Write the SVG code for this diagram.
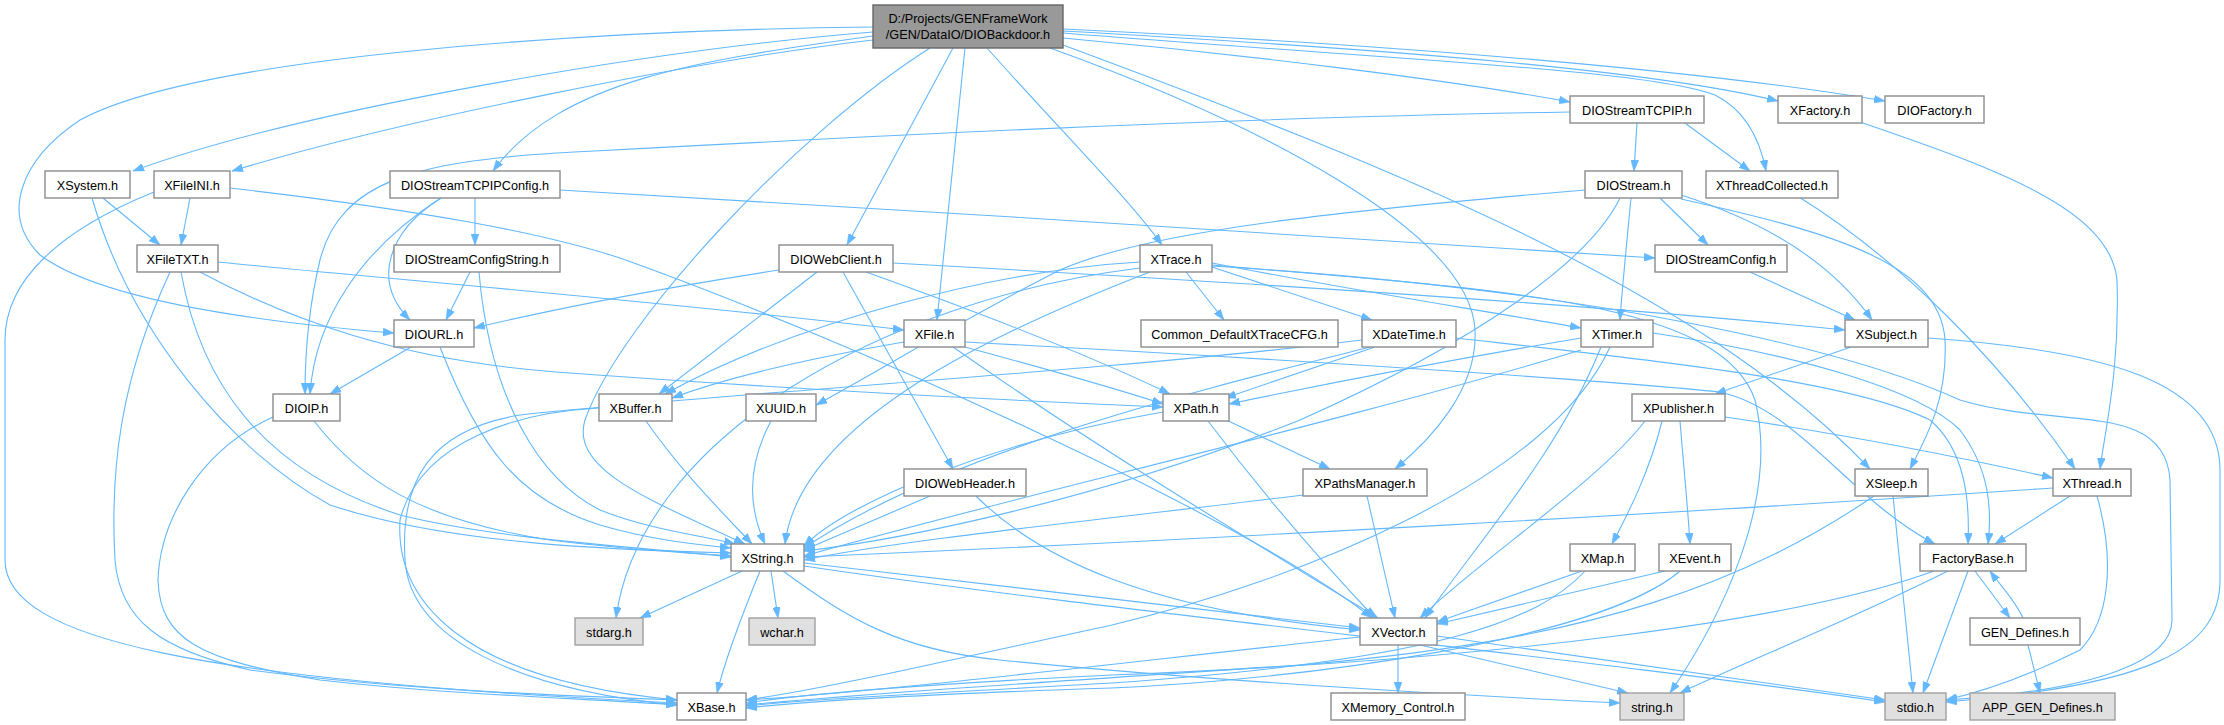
<svg xmlns="http://www.w3.org/2000/svg" width="2224" height="725" viewBox="0 0 2224 725">
<defs>
<marker id="ah" viewBox="0 0 11 8" refX="11" refY="4" markerWidth="11" markerHeight="8" markerUnits="userSpaceOnUse" orient="auto">
<path d="M0,0 L11,4 L0,8 Z" fill="#63b8ff" stroke="#63b8ff" stroke-width="0.5"/>
</marker>
</defs>
<style>
.n rect{fill:#ffffff;stroke:#8c8c8c;stroke-width:1.4}
.s rect{fill:#e0e0e0;stroke:#a0a0a0;stroke-width:1.4}
.r rect{fill:#999999;stroke:#666666;stroke-width:1.4}
text{font-family:"Liberation Sans",Arial,sans-serif;font-size:12.7px;fill:#000000;text-anchor:middle}
#edges path{fill:none;stroke:#63b8ff;stroke-width:1.1;marker-end:url(#ah)}
</style>
<rect width="2224" height="725" fill="#ffffff"/>
<g id="edges">
<path d="M873,32 C650,50 300,110 133,171"/>
<path d="M873,40 C700,60 400,120 232,171"/>
<path d="M873,27 C600,30 200,55 80,120 C20,160 0,215 40,255 C100,300 260,322 394,333"/>
<path d="M873,36 C700,60 560,80 493,171"/>
<path d="M930,48 C800,130 620,320 585,420 C570,470 650,500 745,544"/>
<path d="M953,48 L847,245"/>
<path d="M965,48 C955,150 945,250 937,320"/>
<path d="M987,48 C1060,130 1130,200 1162,245"/>
<path d="M1050,48 C1250,120 1470,230 1475,330 C1478,390 1430,440 1395,469"/>
<path d="M1063,45 C1400,170 1700,290 1870,469"/>
<path d="M1063,38 C1250,55 1450,80 1570,102"/>
<path d="M1063,33 C1400,60 1650,70 1715,95 C1745,110 1760,140 1766,171"/>
<path d="M1063,31 C1400,50 1650,70 1778,101"/>
<path d="M1063,29 C1400,45 1700,70 1885,101"/>
<path d="M103,198 L160,245"/>
<path d="M92,198 C130,330 230,450 330,505 C450,545 620,550 731,553"/>
<path d="M190,198 L181,245"/>
<path d="M154,192 C60,230 5,280 5,340 L5,560 C5,640 200,680 677,703"/>
<path d="M230,188 C420,210 540,232 620,258 C850,340 1250,520 1372,618"/>
<path d="M218,262 C400,280 700,305 904,330"/>
<path d="M200,272 C290,320 400,360 556,372 C800,390 1000,400 1163,407"/>
<path d="M181,272 C200,380 260,470 400,515 C500,540 650,548 731,557"/>
<path d="M170,272 C120,380 110,470 115,560 C120,620 160,650 250,670 C400,690 550,695 677,700"/>
<path d="M475,198 L475,245"/>
<path d="M441,198 C390,230 370,280 410,320"/>
<path d="M441,198 C360,250 315,320 310,394"/>
<path d="M560,190 C900,210 1400,240 1655,258"/>
<path d="M470,272 L446,320"/>
<path d="M479,272 C490,400 540,480 600,510 C650,530 700,535 735,544"/>
<path d="M411,347 L330,394"/>
<path d="M440,347 C480,450 520,500 600,525 C650,540 700,545 731,548"/>
<path d="M314,421 C360,480 420,520 550,540 C630,550 690,553 731,556"/>
<path d="M273,417 C200,450 160,520 158,580 C160,640 200,660 320,680 C450,695 580,698 677,705"/>
<path d="M779,270 C650,290 550,310 474,328"/>
<path d="M817,272 L659,394"/>
<path d="M843,272 L953,469"/>
<path d="M866,272 C1000,320 1100,360 1170,394"/>
<path d="M893,263 C1200,280 1600,305 1845,330"/>
<path d="M904,342 C800,360 720,380 672,398"/>
<path d="M965,347 C1050,370 1120,390 1163,404"/>
<path d="M953,347 C1100,450 1250,540 1378,618"/>
<path d="M965,342 C1300,360 1600,380 1720,392 C1800,410 1850,500 1935,544"/>
<path d="M1186,272 L1224,320"/>
<path d="M1212,267 L1372,320"/>
<path d="M1212,263 C1350,290 1480,310 1581,328"/>
<path d="M1140,262 C1000,270 800,320 665,394"/>
<path d="M1150,272 C1000,330 800,420 785,544"/>
<path d="M1140,268 C880,300 640,440 616,618"/>
<path d="M1212,265 C1500,290 1720,300 1755,400 C1780,500 1720,620 1670,693"/>
<path d="M1212,266 C1600,290 1850,350 1960,400 C2060,430 2165,400 2170,480 L2172,620 C2172,660 2100,690 1946,700"/>
<path d="M1928,338 C2100,350 2220,380 2220,470 L2220,580 C2220,650 2150,685 1946,702"/>
<path d="M1637,123 L1634,171"/>
<path d="M1685,123 L1750,171"/>
<path d="M1570,112 C1200,118 800,140 556,153 C420,162 340,180 320,260 C308,310 305,360 305,394"/>
<path d="M1660,198 L1708,245"/>
<path d="M1681,195 C1760,220 1830,260 1872,320"/>
<path d="M1681,199 C1820,230 1940,260 1945,340 C1948,400 1925,440 1910,469"/>
<path d="M1631,198 C1626,250 1622,290 1620,320"/>
<path d="M1620,198 C1590,260 1480,340 1300,420 C1100,500 900,540 804,551"/>
<path d="M1585,190 C1350,210 1150,230 1060,270 C980,310 880,370 816,405"/>
<path d="M1799,197 C1900,260 2000,360 2075,469"/>
<path d="M1860,122 C2000,170 2110,210 2117,280 C2120,370 2105,430 2100,469"/>
<path d="M1750,272 L1855,320"/>
<path d="M1851,347 L1715,394"/>
<path d="M1375,347 L1225,398"/>
<path d="M1581,338 C1450,360 1320,385 1229,404"/>
<path d="M1370,347 C1200,390 950,450 804,548"/>
<path d="M1362,340 C1100,372 700,395 520,415 C430,430 400,480 405,560 C410,640 520,690 677,705"/>
<path d="M1456,338 C1650,360 1850,380 1930,420 C1965,450 1970,500 1968,544"/>
<path d="M1581,350 C1350,420 1000,500 804,556"/>
<path d="M1601,347 C1560,450 1480,540 1425,618"/>
<path d="M1610,347 C1550,480 1300,580 1112,625 C950,660 820,690 746,700"/>
<path d="M1653,333 C1800,355 1920,390 1960,430 C1990,470 1992,510 1988,544"/>
<path d="M1222,418 L1330,469"/>
<path d="M1163,412 C1000,440 850,500 804,546"/>
<path d="M1208,421 C1260,490 1320,560 1375,618"/>
<path d="M1303,495 C1100,520 900,540 804,560"/>
<path d="M1367,496 L1395,618"/>
<path d="M599,408 C520,412 420,440 400,520 C395,600 460,680 677,700"/>
<path d="M646,421 C680,470 720,510 752,544"/>
<path d="M771,421 C750,460 745,500 765,544"/>
<path d="M930,496 L804,550"/>
<path d="M976,496 C1040,560 1150,610 1360,630"/>
<path d="M742,571 L640,618"/>
<path d="M771,571 L778,618"/>
<path d="M760,571 C740,620 725,660 717,693"/>
<path d="M804,563 C1000,585 1200,610 1360,628"/>
<path d="M783,571 C850,620 900,650 1000,660 C1200,680 1450,695 1620,703"/>
<path d="M804,566 C1100,610 1600,660 1885,702"/>
<path d="M1398,645 L1398,693"/>
<path d="M1420,645 L1628,693"/>
<path d="M1437,636 C1600,660 1750,680 1885,700"/>
<path d="M1360,637 C1100,665 900,690 746,700"/>
<path d="M1975,571 L2010,618"/>
<path d="M2023,618 C2015,600 2000,585 1990,571"/>
<path d="M2028,645 L2040,693"/>
<path d="M1968,571 L1923,693"/>
<path d="M1948,571 C1850,620 1750,660 1680,693"/>
<path d="M1934,571 C1800,620 1500,660 1112,675 C900,685 800,695 746,703"/>
<path d="M1893,496 L1913,693"/>
<path d="M1874,496 C1750,580 1600,640 1300,665 C1000,685 850,695 746,705"/>
<path d="M2070,496 L1995,544"/>
<path d="M2097,496 C2115,560 2110,620 2080,650 C2030,675 1990,690 1946,700"/>
<path d="M2053,488 C1700,512 1200,540 804,557"/>
<path d="M1662,421 C1650,470 1630,510 1612,544"/>
<path d="M1680,421 C1684,470 1688,510 1690,544"/>
<path d="M1725,417 C1850,435 1950,455 2053,478"/>
<path d="M1645,421 C1600,480 1480,560 1420,618"/>
<path d="M1582,571 L1437,622"/>
<path d="M1585,571 C1540,620 1440,660 1112,683 C900,695 800,700 746,706"/>
<path d="M1665,571 L1437,624"/>
<path d="M1680,571 C1600,640 1300,680 1112,688 C900,695 800,702 746,708"/>
</g>
<g id="root" class="r"><rect x="873" y="5" width="190" height="43"/><text x="968" y="23">D:/Projects/GENFrameWork</text><text x="968" y="39">/GEN/DataIO/DIOBackdoor.h</text></g>
<g id="DIOStreamTCPIP" class="n"><rect x="1570" y="96" width="134" height="27"/><text x="1637" y="114.5">DIOStreamTCPIP.h</text></g>
<g id="XFactory" class="n"><rect x="1778" y="96" width="84" height="27"/><text x="1820" y="114.5">XFactory.h</text></g>
<g id="DIOFactory" class="n"><rect x="1885" y="96" width="99" height="27"/><text x="1934.5" y="114.5">DIOFactory.h</text></g>
<g id="XSystem" class="n"><rect x="45" y="171" width="85" height="27"/><text x="87.5" y="189.5">XSystem.h</text></g>
<g id="XFileINI" class="n"><rect x="154" y="171" width="76" height="27"/><text x="192" y="189.5">XFileINI.h</text></g>
<g id="DIOStreamTCPIPConfig" class="n"><rect x="390" y="171" width="170" height="27"/><text x="475" y="189.5">DIOStreamTCPIPConfig.h</text></g>
<g id="DIOStream" class="n"><rect x="1585" y="171" width="97" height="27"/><text x="1633.5" y="189.5">DIOStream.h</text></g>
<g id="XThreadCollected" class="n"><rect x="1706" y="171" width="132" height="27"/><text x="1772" y="189.5">XThreadCollected.h</text></g>
<g id="XFileTXT" class="n"><rect x="137" y="245" width="81" height="27"/><text x="177.5" y="263.5">XFileTXT.h</text></g>
<g id="DIOStreamConfigString" class="n"><rect x="394" y="245" width="166" height="27"/><text x="477" y="263.5">DIOStreamConfigString.h</text></g>
<g id="DIOWebClient" class="n"><rect x="779" y="245" width="114" height="27"/><text x="836" y="263.5">DIOWebClient.h</text></g>
<g id="XTrace" class="n"><rect x="1140" y="245" width="72" height="27"/><text x="1176" y="263.5">XTrace.h</text></g>
<g id="DIOStreamConfig" class="n"><rect x="1655" y="245" width="132" height="27"/><text x="1721" y="263.5">DIOStreamConfig.h</text></g>
<g id="DIOURL" class="n"><rect x="394" y="320" width="80" height="27"/><text x="434" y="338.5">DIOURL.h</text></g>
<g id="XFile" class="n"><rect x="904" y="320" width="61" height="27"/><text x="934.5" y="338.5">XFile.h</text></g>
<g id="Common_DefaultXTraceCFG" class="n"><rect x="1141" y="320" width="197" height="27"/><text x="1239.5" y="338.5">Common_DefaultXTraceCFG.h</text></g>
<g id="XDateTime" class="n"><rect x="1362" y="320" width="94" height="27"/><text x="1409" y="338.5">XDateTime.h</text></g>
<g id="XTimer" class="n"><rect x="1581" y="320" width="72" height="27"/><text x="1617" y="338.5">XTimer.h</text></g>
<g id="XSubject" class="n"><rect x="1845" y="320" width="83" height="27"/><text x="1886.5" y="338.5">XSubject.h</text></g>
<g id="DIOIP" class="n"><rect x="273" y="394" width="67" height="27"/><text x="306.5" y="412.5">DIOIP.h</text></g>
<g id="XBuffer" class="n"><rect x="599" y="394" width="73" height="27"/><text x="635.5" y="412.5">XBuffer.h</text></g>
<g id="XUUID" class="n"><rect x="746" y="394" width="70" height="27"/><text x="781" y="412.5">XUUID.h</text></g>
<g id="XPath" class="n"><rect x="1163" y="394" width="66" height="27"/><text x="1196" y="412.5">XPath.h</text></g>
<g id="XPublisher" class="n"><rect x="1632" y="394" width="93" height="27"/><text x="1678.5" y="412.5">XPublisher.h</text></g>
<g id="DIOWebHeader" class="n"><rect x="904" y="469" width="122" height="27"/><text x="965" y="487.5">DIOWebHeader.h</text></g>
<g id="XPathsManager" class="n"><rect x="1303" y="469" width="124" height="27"/><text x="1365" y="487.5">XPathsManager.h</text></g>
<g id="XSleep" class="n"><rect x="1855" y="469" width="73" height="27"/><text x="1891.5" y="487.5">XSleep.h</text></g>
<g id="XThread" class="n"><rect x="2053" y="469" width="78" height="27"/><text x="2092" y="487.5">XThread.h</text></g>
<g id="XString" class="n"><rect x="731" y="544" width="73" height="27"/><text x="767.5" y="562.5">XString.h</text></g>
<g id="XMap" class="n"><rect x="1570" y="544" width="65" height="27"/><text x="1602.5" y="562.5">XMap.h</text></g>
<g id="XEvent" class="n"><rect x="1659" y="544" width="72" height="27"/><text x="1695" y="562.5">XEvent.h</text></g>
<g id="FactoryBase" class="n"><rect x="1920" y="544" width="106" height="27"/><text x="1973" y="562.5">FactoryBase.h</text></g>
<g id="stdarg" class="s"><rect x="575" y="618" width="68" height="27"/><text x="609" y="636.5">stdarg.h</text></g>
<g id="wchar" class="s"><rect x="749" y="618" width="66" height="27"/><text x="782" y="636.5">wchar.h</text></g>
<g id="XVector" class="n"><rect x="1360" y="618" width="77" height="27"/><text x="1398.5" y="636.5">XVector.h</text></g>
<g id="GEN_Defines" class="n"><rect x="1970" y="618" width="110" height="27"/><text x="2025" y="636.5">GEN_Defines.h</text></g>
<g id="XBase" class="n"><rect x="677" y="693" width="69" height="27"/><text x="711.5" y="711.5">XBase.h</text></g>
<g id="XMemory_Control" class="n"><rect x="1331" y="693" width="134" height="27"/><text x="1398" y="711.5">XMemory_Control.h</text></g>
<g id="string" class="s"><rect x="1620" y="693" width="64" height="27"/><text x="1652" y="711.5">string.h</text></g>
<g id="stdio" class="s"><rect x="1885" y="693" width="61" height="27"/><text x="1915.5" y="711.5">stdio.h</text></g>
<g id="APP_GEN_Defines" class="s"><rect x="1970" y="693" width="145" height="27"/><text x="2042.5" y="711.5">APP_GEN_Defines.h</text></g>
</svg>
